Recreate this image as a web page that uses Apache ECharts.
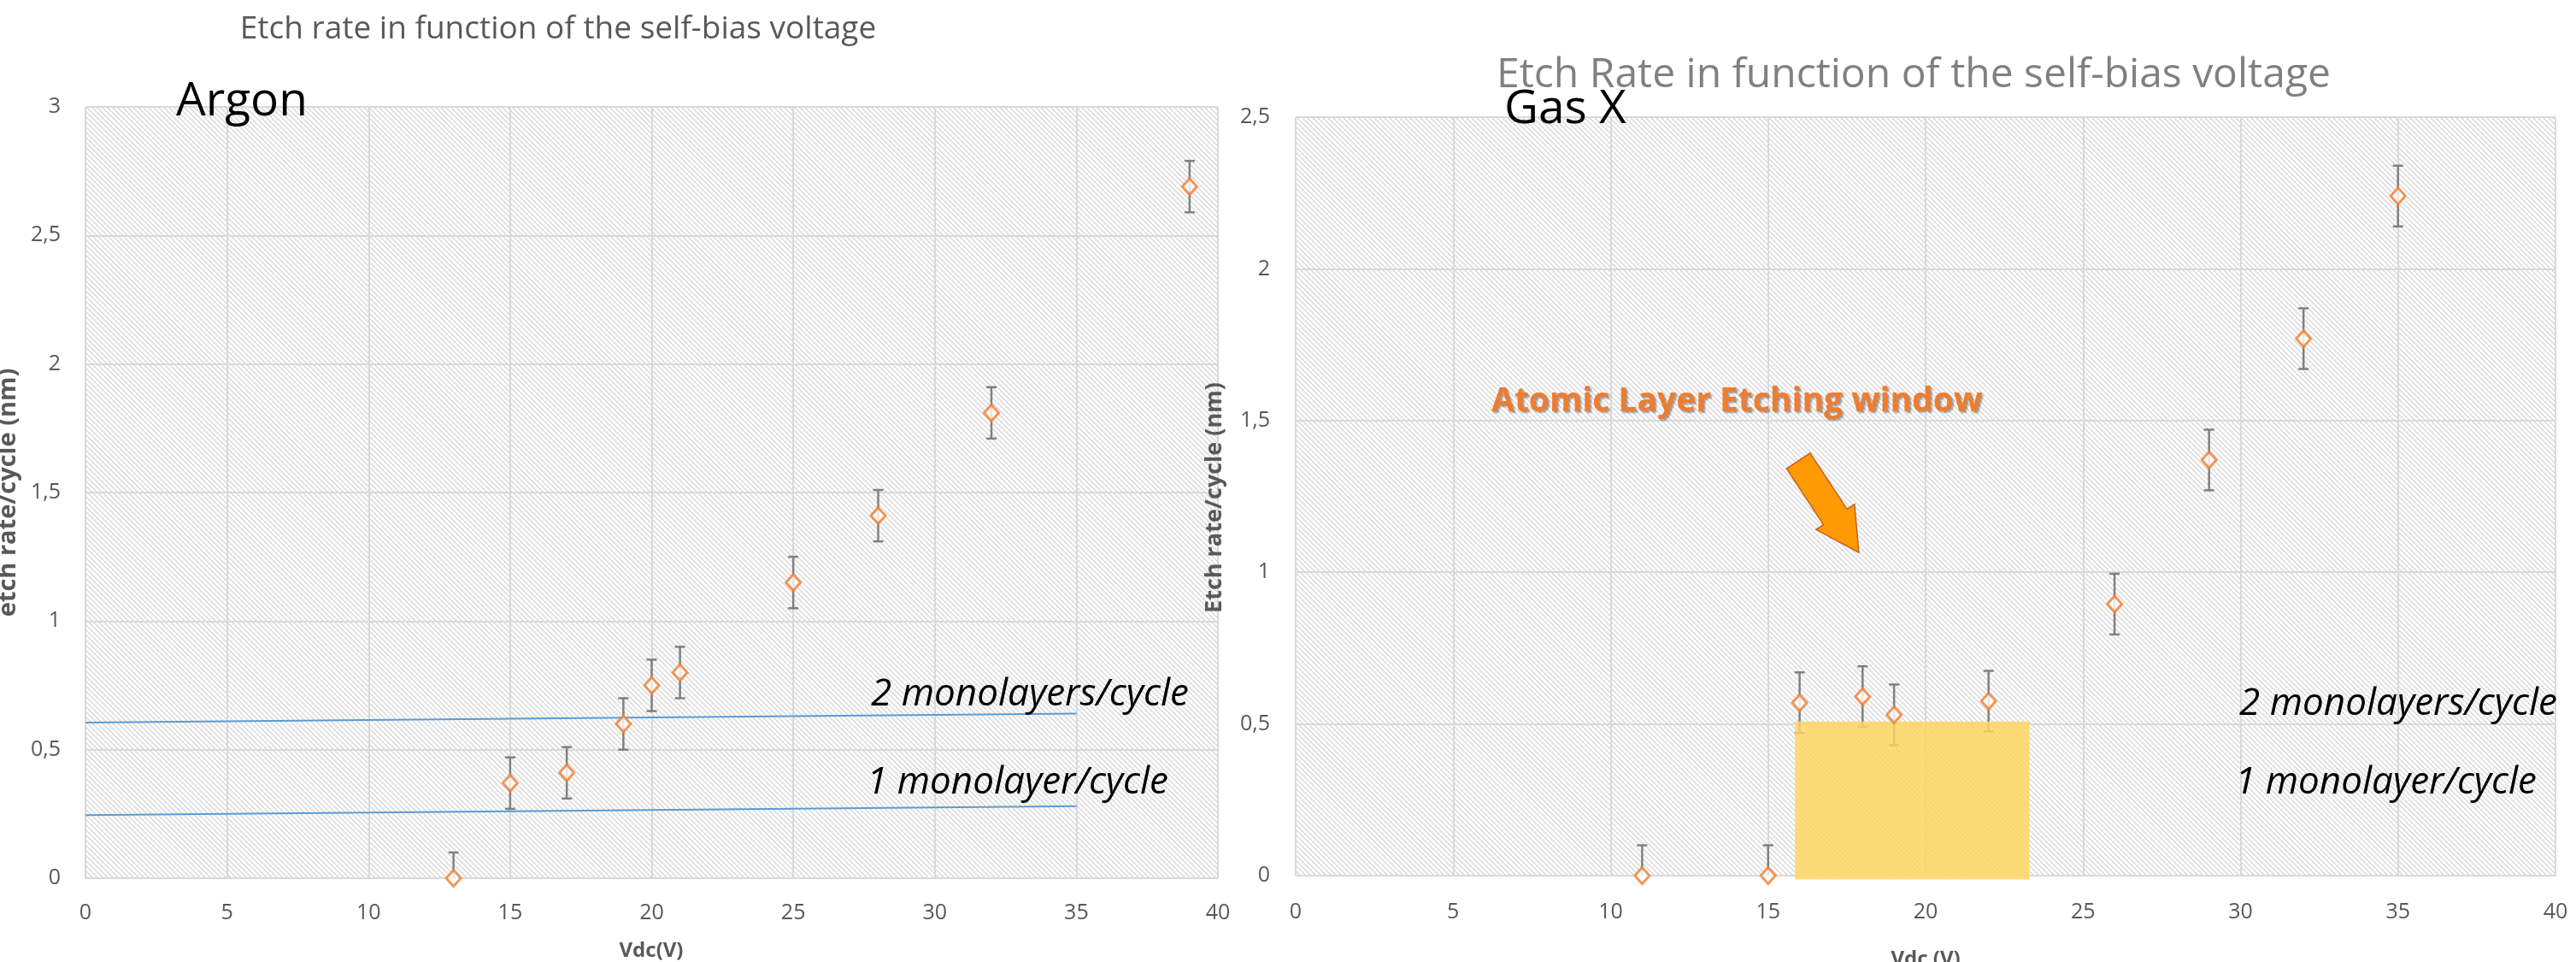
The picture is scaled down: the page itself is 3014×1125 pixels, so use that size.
<!DOCTYPE html>
<html>
<head>
<meta charset="utf-8">
<title>Etch rate in function of the self-bias voltage</title>
<script src="https://cdn.jsdelivr.net/npm/echarts@6/dist/echarts.min.js"></script>
<style>
  html, body { margin: 0; padding: 0; background: #ffffff; }
  #chart { width: 3014px; height: 1125px; }
</style>
</head>
<body>
<div id="chart"></div>
<script>
// ---- Argon: etch rate per cycle vs self-bias voltage ----
const argonVdc  = [13, 15, 17, 19, 20, 21, 25, 28, 32, 39];
const argonRate = [0, 0.37, 0.41, 0.60, 0.75, 0.80, 1.15, 1.41, 1.81, 2.69];
const argonErr  = [0.1, 0.1, 0.1, 0.1, 0.1, 0.1, 0.1, 0.1, 0.1, 0.1];

// ---- Gas X: etch rate per cycle vs self-bias voltage ----
const gasVdc  = [11, 15, 16, 18, 19, 22, 26, 29, 32, 35];
const gasRate = [0, 0, 0.57, 0.59, 0.53, 0.575, 0.895, 1.37, 1.77, 2.24];
const gasErr  = [0.1, 0.1, 0.1, 0.1, 0.1, 0.1, 0.1, 0.1, 0.1, 0.1];

// Monolayer reference lines drawn on the argon panel [Vdc, rate]
const oneMonolayerLine = [[0, 0.245], [35, 0.28]];
const twoMonolayerLine = [[0, 0.605], [35, 0.64]];

// Atomic layer etching window on the gas X panel: [x0, y0, x1, y1]
const aleWindow = [15.85, -0.013, 23.3, 0.508];
// Arrow pointing at the window: [tailX, tailY, tipX, tipY]
const aleArrow = [15.96, 1.367, 17.88, 1.065];

// Axis ranges / tick spacing
const xRange = { min: 0, max: 40, interval: 5 };
const argonYRange = { min: 0, max: 3, interval: 0.5 };
const gasYRange = { min: 0, max: 2.5, interval: 0.5 };

const FONT = '"Open Sans"';
const TICK_COLOR = '#595959';
const GRID_COLOR = '#d9d9d9';

// diagonal hatch used as plot-area fill
function hatchPattern() {
  const s = 6;
  const c = document.createElement('canvas');
  c.width = s; c.height = s;
  const g = c.getContext('2d');
  g.fillStyle = '#ffffff';
  g.fillRect(0, 0, s, s);
  g.strokeStyle = '#d6d6d6';
  g.lineWidth = 1.3;
  g.beginPath();
  g.moveTo(-1, -1); g.lineTo(s + 1, s + 1);
  g.moveTo(-1, s - 1); g.lineTo(1, s + 1);
  g.moveTo(s - 1, -1); g.lineTo(s + 1, 1);
  g.stroke();
  return { image: c, repeat: 'repeat' };
}

const commaFmt = v => String(v).replace('.', ',');

function zip3(a, b, c) { return a.map((v, i) => [v, b[i], c[i]]); }

function errorBarItem(params, api) {
  const x = api.value(0), y = api.value(1), e = api.value(2);
  const top = api.coord([x, y + e]);
  const bot = api.coord([x, y - e]);
  const cap = 6;
  const st = { stroke: '#808080', lineWidth: 2.5 };
  return {
    type: 'group',
    children: [
      { type: 'line', shape: { x1: top[0], y1: top[1], x2: bot[0], y2: bot[1] }, style: st },
      { type: 'line', shape: { x1: top[0] - cap, y1: top[1], x2: top[0] + cap, y2: top[1] }, style: st },
      { type: 'line', shape: { x1: bot[0] - cap, y1: bot[1], x2: bot[0] + cap, y2: bot[1] }, style: st }
    ]
  };
}

function windowItem(params, api) {
  const a = api.coord([api.value(0), api.value(1)]);
  const b = api.coord([api.value(2), api.value(3)]);
  return {
    type: 'rect',
    shape: { x: a[0], y: b[1], width: b[0] - a[0], height: a[1] - b[1] },
    style: { fill: 'rgba(255, 213, 96, 0.84)' }
  };
}

function arrowItem(params, api) {
  const t = api.coord([api.value(0), api.value(1)]);
  const p = api.coord([api.value(2), api.value(3)]);
  const dx = p[0] - t[0], dy = p[1] - t[1];
  const len = Math.hypot(dx, dy);
  const ux = dx / len, uy = dy / len;
  const nx = -uy, ny = ux;
  const w = 16.5, h = 27, hl = 50;
  const bx = p[0] - ux * hl, by = p[1] - uy * hl;
  const pts = [
    [t[0] + nx * w, t[1] + ny * w],
    [bx + nx * w, by + ny * w],
    [bx + nx * h, by + ny * h],
    [p[0], p[1]],
    [bx - nx * h, by - ny * h],
    [bx - nx * w, by - ny * w],
    [t[0] - nx * w, t[1] - ny * w]
  ];
  return {
    type: 'polygon',
    shape: { points: pts },
    style: { fill: '#ff9a05', stroke: '#c8601a', lineWidth: 1.5 }
  };
}

function xAxisCfg(gridIndex, margin) {
  return {
    type: 'value', gridIndex,
    min: xRange.min, max: xRange.max, interval: xRange.interval,
    axisLine: { show: true, lineStyle: { color: GRID_COLOR, width: 2 } },
    axisTick: { show: false },
    axisLabel: { color: TICK_COLOR, fontSize: 25, fontFamily: FONT, margin },
    splitLine: { show: true, lineStyle: { color: GRID_COLOR, width: 2 } }
  };
}

function yAxisCfg(gridIndex, range, margin) {
  return {
    type: 'value', gridIndex,
    min: range.min, max: range.max, interval: range.interval,
    axisLine: { show: false },
    axisTick: { show: false },
    axisLabel: { color: TICK_COLOR, fontSize: 25, fontFamily: FONT, margin, formatter: commaFmt },
    splitLine: { show: true, lineStyle: { color: GRID_COLOR, width: 2 } }
  };
}

function markerSeries(xIdx, xs, ys) {
  return {
    type: 'scatter', xAxisIndex: xIdx, yAxisIndex: xIdx,
    data: xs.map((v, i) => [v, ys[i]]),
    symbol: 'diamond', symbolSize: [17, 19],
    clip: false, z: 5,
    itemStyle: { color: '#ffffff', borderColor: '#ed7d31', borderWidth: 3 }
  };
}

function label(x, y, text, font, fill, extra) {
  return {
    type: 'text', x, y, z: 10,
    style: Object.assign({ text, fill, font, textAlign: 'left', textVerticalAlign: 'middle' }, extra || {})
  };
}

const hatch = hatchPattern();

const option = {
  animation: false,
  backgroundColor: '#ffffff',
  textStyle: { fontFamily: FONT },
  grid: [
    { left: 100, top: 125, width: 1325, height: 902, show: true, borderWidth: 0, backgroundColor: hatch },
    { left: 1516, top: 137, width: 1474, height: 887, show: true, borderWidth: 0, backgroundColor: hatch }
  ],
  xAxis: [xAxisCfg(0, 28), xAxisCfg(1, 30)],
  yAxis: [yAxisCfg(0, argonYRange, 29), yAxisCfg(1, gasYRange, 30)],
  series: [
    // argon panel
    {
      type: 'line', xAxisIndex: 0, yAxisIndex: 0, data: twoMonolayerLine,
      showSymbol: false, silent: true, z: 2,
      lineStyle: { color: '#5b9bd5', width: 2 }
    },
    {
      type: 'line', xAxisIndex: 0, yAxisIndex: 0, data: oneMonolayerLine,
      showSymbol: false, silent: true, z: 2,
      lineStyle: { color: '#5b9bd5', width: 2 }
    },
    {
      type: 'custom', xAxisIndex: 0, yAxisIndex: 0, clip: true, z: 3,
      data: zip3(argonVdc, argonRate, argonErr), renderItem: errorBarItem
    },
    markerSeries(0, argonVdc, argonRate),
    // gas X panel
    {
      type: 'custom', xAxisIndex: 1, yAxisIndex: 1, clip: true, z: 3,
      data: zip3(gasVdc, gasRate, gasErr), renderItem: errorBarItem
    },
    {
      type: 'custom', xAxisIndex: 1, yAxisIndex: 1, clip: false, z: 4, silent: true,
      data: [aleWindow], renderItem: windowItem
    },
    markerSeries(1, gasVdc, gasRate),
    {
      type: 'custom', xAxisIndex: 1, yAxisIndex: 1, clip: false, z: 6, silent: true,
      data: [aleArrow], renderItem: arrowItem
    }
  ],
  graphic: [
    label(653, 34, 'Etch rate in function of the self-bias voltage', '37px ' + FONT, '#595959', { textAlign: 'center' }),
    label(2239, 88, 'Etch Rate in function of the self-bias voltage', '48px ' + FONT, '#808080', { textAlign: 'center' }),
    label(206, 119, 'Argon', '55px ' + FONT, '#000000'),
    label(1760, 128, 'Gas X', '55px ' + FONT, '#000000'),
    label(1019, 812, '2 monolayers/cycle', 'italic 44px ' + FONT, '#000000'),
    label(1014, 915, '1 monolayer/cycle', 'italic 44px ' + FONT, '#000000'),
    label(2620, 823, '2 monolayers/cycle', 'italic 44px ' + FONT, '#000000'),
    label(2615, 915, '1 monolayer/cycle', 'italic 44px ' + FONT, '#000000'),
    label(1745, 470, 'Atomic Layer Etching window', 'bold 39px ' + FONT, '#ed7d31', {
      textShadowColor: 'rgba(0,0,0,0.35)', textShadowOffsetX: 2, textShadowOffsetY: 2, textShadowBlur: 2
    }),
    Object.assign(label(10, 576, 'etch rate/cycle (nm)', 'bold 29px ' + FONT, '#595959', { textAlign: 'center' }), { rotation: Math.PI / 2 }),
    Object.assign(label(1421, 582, 'Etch rate/cycle (nm)', 'bold 27px ' + FONT, '#595959', { textAlign: 'center' }), { rotation: Math.PI / 2 }),
    label(762, 1112, 'Vdc(V)', 'bold 24px ' + FONT, '#595959', { textAlign: 'center' }),
    label(2253, 1122, 'Vdc (V)', 'bold 24px ' + FONT, '#595959', { textAlign: 'center' })
  ]
};

const chart = echarts.init(document.getElementById('chart'), null, { renderer: 'canvas' });
chart.setOption(option);
</script>
</body>
</html>
